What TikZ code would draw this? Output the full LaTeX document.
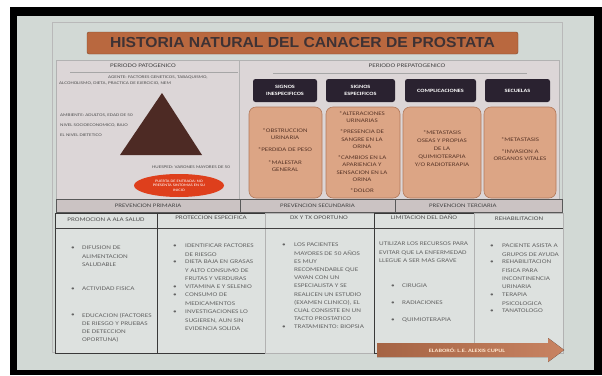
\documentclass[tikz,border=0pt]{standalone}
\usepackage{fontspec}
\setmainfont{Carlito}[FakeStretch=1.27]
\newfontfamily\titlefont{Liberation Sans}[FakeStretch=1.08]
\usetikzlibrary{shapes.geometric}
\definecolor{screen}{HTML}{D2D9D5}
\definecolor{boxbg}{HTML}{DCD6D7}
\definecolor{titlebg}{HTML}{B9683F}
\definecolor{titletxt}{HTML}{3E3234}
\definecolor{darkbox}{HTML}{2A2230}
\definecolor{salmon}{HTML}{DCA585}
\definecolor{salmonedge}{HTML}{B27A5C}
\definecolor{tri}{HTML}{4D2A24}
\definecolor{redell}{HTML}{DE3F1C}
\definecolor{txtgray}{HTML}{646464}
\definecolor{hdrtxt}{HTML}{444444}
\definecolor{prevbg}{HTML}{CBC3C3}
\definecolor{tablebg}{HTML}{DDE1DF}
\definecolor{arrowbg}{HTML}{C27550}
\definecolor{stext}{HTML}{5A3628}
\begin{document}
\begin{tikzpicture}[x=1pt,y=-1pt,
 txt/.style={font=\fontsize{5.7}{8.2}\selectfont, text=txtgray, inner sep=0pt, align=left, anchor=north west},
 bul/.style={font=\fontsize{5.7}{8.2}\selectfont, text=txtgray, inner sep=0pt},
 tinytxt/.style={font=\fontsize{4.1}{5}\selectfont, text=txtgray!80!black, inner sep=0pt, anchor=west},
 hdr/.style={font=\fontsize{5.6}{7}\selectfont, text=hdrtxt, inner sep=0pt},
 panel/.style={draw=gray!60, fill=boxbg, line width=0.5pt, minimum height=139pt, inner sep=0pt},
 dbox/.style={fill=darkbox, rounded corners=2.5pt, minimum height=23pt, inner sep=0pt, text=white, font=\bfseries\fontsize{4.9}{6.3}\selectfont, align=center},
 sbox/.style={fill=salmon, draw=salmonedge, line width=0.6pt, rounded corners=7pt, minimum height=91pt, inner sep=0pt},
 stxt/.style={font=\fontsize{5.5}{7.4}\selectfont, text=stext, align=center, inner sep=0pt},
 prev/.style={fill=prevbg, draw=gray!70!black, line width=0.4pt, minimum height=13pt, inner sep=0pt, font=\fontsize{5.4}{6}\selectfont, text=hdrtxt},
 colbox/.style={fill=tablebg, draw=gray!45!black, line width=0.6pt, minimum height=140pt, inner sep=0pt},
]
\useasboundingbox (0,0) rectangle (602,375);
\fill[white] (0,0) rectangle (602,375);
\fill[black] (10,7) rectangle (602,375);
\fill[screen] (17,16) rectangle (594,370);
\draw[gray!55, line width=0.4pt] (52,22) rectangle (562,352);

% title
\node[fill=titlebg, draw=titlebg!70!black, rounded corners=2pt, minimum width=431pt, minimum height=22pt, inner sep=0pt, font=\titlefont\bfseries\fontsize{14.5}{16}\selectfont, text=titletxt] (title) at (302.5,43) {HISTORIA NATURAL DEL CANACER DE PROSTATA};

% panels
\node[panel, minimum width=183pt] (left) at (147.5,129.5) {};
\node[panel, minimum width=320pt] (right) at (399,129.5) {};
\node[hdr] (pp) at (143,66) {PERIODO PATOGENICO};
\draw[gray!70] (70,72.5) -- (238,72.5);
\node[hdr] (ppre) at (407,66) {PERIODO PREPATOGENICO};
\draw[gray!70] (273,73) -- (527,73);

% left panel content
\node[tinytxt] (ag1) at (108,77) {AGENTE: FACTORES GENETICOS, TABAQUISMO,};
\node[tinytxt] (ag2) at (59,83) {ALCOHOLISMO, DIETA, PRACTICA DE EJERCICIO, NEM};
\node[tinytxt] (am1) at (60,115) {AMBIENTE: ADULTOS, EDAD DE 50};
\node[tinytxt] (am2) at (60,125) {NIVEL SOCIOECONOMICO, BAJO};
\node[tinytxt] (am3) at (60,135) {EL NIVEL DIETETICO};
\fill[tri] (162,93) -- (202,155) -- (120,155) -- cycle;
\node[tinytxt] (hu) at (152,167) {HUESPED: VARONES MAYORES DE 50};
\node[ellipse, fill=redell, minimum width=90pt, minimum height=23pt, inner sep=0pt, text=white, font=\fontsize{3.6}{4.6}\selectfont, align=center] (pe) at (179,185.5) {PUERTA DE ENTRADA: NO\\PRESENTA SINTOMAS EN SU\\INICIO};

% dark boxes
\node[dbox, minimum width=64pt] (d1) at (285,90.5) {SIGNOS\\INESPECIFICOS};
\node[dbox, minimum width=69pt] (d2) at (360.5,90.5) {SIGNOS\\ESPECIFICOS};
\node[dbox, minimum width=71pt] (d3) at (440.5,90.5) {COMPLICACIONES};
\node[dbox, minimum width=65pt] (d4) at (517.5,90.5) {SECUELAS};

% salmon boxes
\node[sbox, minimum width=73pt] (s1) at (285.5,152.5) {};
\node[sbox, minimum width=74pt] (s2) at (363,152.5) {};
\node[sbox, minimum width=78pt] (s3) at (442,152.5) {};
\node[sbox, minimum width=72pt] (s4) at (520,152.5) {};
\node[stxt] (t1) at (285,150) {*OBSTRUCCION\\URINARIA\\[5pt]*PERDIDA DE PESO\\[5pt]*MALESTAR\\GENERAL};
\node[stxt] (t2) at (362,152) {*ALTERACIONES\\URINARIAS\\[3.5pt]*PRESENCIA DE\\SANGRE EN LA\\ORINA\\[3.5pt]*CAMBIOS EN LA\\APARIENCIA Y\\SENSACION EN LA\\ORINA\\[3.5pt]*DOLOR};
\node[stxt, font=\fontsize{5.5}{8}\selectfont] (t3) at (442,149) {*METASTASIS\\OSEAS Y PROPIAS\\DE LA\\QUIMIOTERAPIA\\Y/O RADIOTERAPIA};
\node[stxt] (t4) at (520,149) {*METASTASIS\\[5pt]*INVASION A\\ORGANOS VITALES};

% prevention bar
\node[prev, minimum width=184pt] (p1) at (148,205.5) {PREVENCION PRIMARIA};
\node[prev, minimum width=155pt] (p2) at (317.5,205.5) {PREVENCION SECUNDARIA};
\node[prev, minimum width=167pt, text width=167pt, align=left] (p3) at (478.5,205.5) {\hspace*{34pt}PREVENCION TERCIARIA};

% columns
\node[colbox, minimum width=102pt] (c1) at (106,283) {};
\node[colbox, minimum width=108pt] (c2) at (211,283) {};
\node[colbox, minimum width=109pt, draw=gray!60] (c3) at (319.5,283) {};
\node[colbox, minimum width=100pt] (c4) at (424,283) {};
\node[colbox, minimum width=89pt, draw=gray!60] (c5) at (518.5,283) {};
\draw[gray!50!black, line width=0.5pt] (c1.west |- 0,228) -- (c5.east |- 0,228);
\node[hdr, text=txtgray!80!black] (h1) at (106,220) {PROMOCION A ALA SALUD};
\node[hdr, text=txtgray!80!black] (h2) at (211,218) {PROTECCION ESPECIFICA};
\node[hdr, text=txtgray!80!black] (h3) at (319,218) {DX Y TX OPORTUNO};
\node[hdr, text=txtgray!80!black] (h4) at (424,217) {LIMITACION DEL DAÑO};
\node[hdr, text=txtgray!80!black] (h5) at (519,219) {REHABILITACION};

% column 1
\node[bul] (b11) at (73,248) {\textbullet};
\node[txt] (x11) at (82,246) {DIFUSION DE\\ALIMENTACION\\SALUDABLE};
\node[bul] (b12) at (73,289) {\textbullet};
\node[txt] (x12) at (82,287) {ACTIVIDAD FISICA};
\node[bul] (b13) at (73,315) {\textbullet};
\node[txt] (x13) at (82,313) {EDUCACION (FACTORES\\DE RIESGO Y PRUEBAS\\DE DETECCION\\OPORTUNA)};

% column 2
\node[bul] (b21) at (175,246) {\textbullet};
\node[txt] (x21) at (185,244) {IDENTIFICAR FACTORES\\DE RIESGO};
\node[bul] (b22) at (175,262) {\textbullet};
\node[txt] (x22) at (185,260) {DIETA BAJA EN GRASAS\\Y ALTO CONSUMO DE\\FRUTAS Y VERDURAS};
\node[bul] (b23) at (175,287) {\textbullet};
\node[txt] (x23) at (185,285) {VITAMINA E Y SELENIO};
\node[bul] (b24) at (175,295) {\textbullet};
\node[txt] (x24) at (185,293) {CONSUMO DE\\MEDICAMENTOS};
\node[bul] (b25) at (175,312) {\textbullet};
\node[txt] (x25) at (185,310) {INVESTIGACIONES LO\\SUGIEREN, AUN SIN\\EVIDENCIA SOLIDA};

% column 3
\node[bul] (b31) at (284,245) {\textbullet};
\node[txt] (x31) at (294,243) {LOS PACIENTES\\MAYORES DE 50 AÑOS\\ES MUY\\RECOMENDABLE QUE\\VAYAN CON UN\\ESPECIALISTA Y SE\\REALICEN UN ESTUDIO\\(EXAMEN CLINICO), EL\\CUAL CONSISTE EN UN\\TACTO PROSTATICO};
\node[bul] (b32) at (284,327) {\textbullet};
\node[txt] (x32) at (294,325) {TRATAMIENTO: BIOPSIA};

% column 4
\node[txt] (x41) at (379,242) {UTILIZAR LOS RECURSOS PARA\\EVITAR QUE LA ENFERMEDAD\\LLEGUE A SER MAS GRAVE};
\node[bul] (b42) at (393,286) {\textbullet};
\node[txt] (x42) at (402,284) {CIRUGIA};
\node[bul] (b43) at (393,303) {\textbullet};
\node[txt] (x43) at (402,301) {RADIACIONES};
\node[bul] (b44) at (393,320) {\textbullet};
\node[txt] (x44) at (402,318) {QUIMIOTERAPIA};

% column 5
\node[bul] (b51) at (492,246) {\textbullet};
\node[txt] (x51) at (502,244) {PACIENTE ASISTA A\\GRUPOS DE AYUDA};
\node[bul] (b52) at (492,262) {\textbullet};
\node[txt] (x52) at (502,260) {REHABILITACION\\FISICA PARA\\INCONTINENCIA\\URINARIA};
\node[bul] (b53) at (492,295) {\textbullet};
\node[txt] (x53) at (502,293) {TERAPIA\\PSICOLOGICA};
\node[bul] (b54) at (492,311) {\textbullet};
\node[txt] (x54) at (502,309) {TANATOLOGO};

% arrow
\fill[left color=arrowbg!85!black, right color=arrowbg!90!white] (377,343) -- (548,343) -- (548,338) -- (564,350) -- (548,362) -- (548,357) -- (377,357) -- cycle;
\node[font=\bfseries\fontsize{5}{6}\selectfont, text=orange!20!white, inner sep=0pt] (elab) at (467,350.5) {ELABORÓ: L.E. ALEXIS CUPUL};
\end{tikzpicture}
\end{document}
